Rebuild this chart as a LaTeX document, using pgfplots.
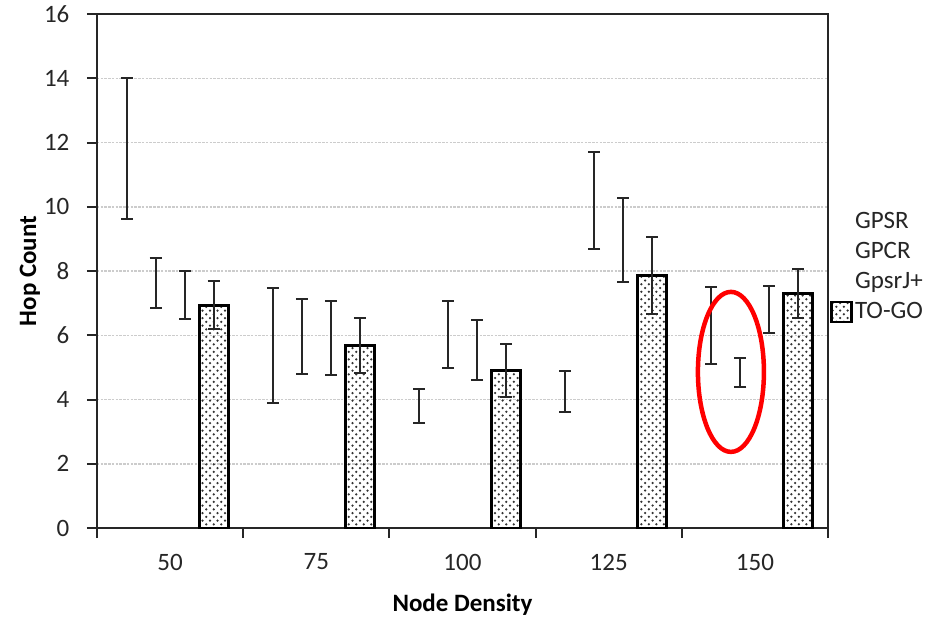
\documentclass[border=0pt]{standalone}
\usepackage{fontspec}
\setmainfont{Carlito}
\usepackage{pgfplots}
\pgfplotsset{compat=1.18}
\usetikzlibrary{patterns}

\pgfplotsset{
    noleg/.style={legend image code/.code={\path (0pt,-4pt) rectangle (8pt,4pt);}},
    boxleg/.style={legend image code/.code={\draw[##1, line width=1pt] (0pt,-4pt) rectangle (8pt,4pt);}},
}

% index, value, error
\pgfplotstableread{
x y e
0 11.81 2.19
1 5.69 1.79
2 3.81 0.53
3 4.26 0.64
4 6.30 1.21
}\gpsr
\pgfplotstableread{
x y e
0 7.63 0.79
1 5.97 1.17
2 6.03 1.05
3 10.20 1.52
4 4.84 0.44
}\gpcr
\pgfplotstableread{
x y e
0 7.25 0.75
1 5.91 1.16
2 5.54 0.93
3 8.97 1.30
4 6.80 0.74
}\gpsrj
\pgfplotstableread{
x y e
0 6.94 0.75
1 5.68 0.86
2 4.91 0.82
3 7.85 1.20
4 7.30 0.76
}\togo

\begin{document}
\begin{tikzpicture}
\useasboundingbox (-38.8pt,-36pt) rectangle (334.8pt,211.2pt);
\begin{axis}[
    at={(0,0)}, anchor=south west,
    scale only axis,
    width=292.4pt, height=205.6pt,
    ybar=0pt, bar width=11.6pt,
    xmin=-0.5, xmax=4.5,
    ymin=0, ymax=16,
    ytick={0,2,...,16},
    xtick={-0.5,0.5,...,4.5},
    xticklabels={},
    extra x ticks={0,1,2,3,4},
    extra x tick labels={50,75,100,125,150},
    extra x tick style={major tick length=0pt},
    tick align=outside,
    major tick length=4pt,
    xtick pos=bottom, ytick pos=left,
    axis line style={line width=0.8pt, black!85},
    tick style={line width=0.8pt, black!85},
    ymajorgrids,
    grid style={gray!40, line width=0.6pt, dash pattern=on 1pt off 0.5pt},
    /pgf/number format/assume math mode=true,
    tick label style={text=black!85},
    yticklabel style={anchor=east, xshift=-3.5pt},
    xticklabel style={anchor=center, yshift=-13.6pt},
    every axis y label/.style={at={(axis description cs:0,0.5)}, xshift=-26.8pt, rotate=90, anchor=center, font=\bfseries},
    every axis x label/.style={at={(axis description cs:0.5,0)}, yshift=-30.8pt, anchor=center, font=\bfseries},
    xlabel={Node Density},
    ylabel={Hop Count},
    legend style={at={(1,0.508)}, xshift=0.6pt, anchor=west, draw=none, fill=none,
        inner sep=0pt, row sep=2pt, nodes={inner sep=1pt, text=black!85}},
    legend cell align=left,
    /tikz/every even column/.append style={column sep=0pt},
    error bars/y dir=both,
    error bars/y explicit,
    error bars/error bar style={line width=0.8pt, black!85},
    error bars/error mark options={rotate=90, mark size=2.4pt, line width=0.8pt, black!85},
]
\addplot[draw=none, fill=none, noleg] table[x=x, y=y, y error=e] {\gpsr};
\addlegendentry{GPSR}
\addplot[draw=none, fill=none, noleg] table[x=x, y=y, y error=e] {\gpcr};
\addlegendentry{GPCR}
\addplot[draw=none, fill=none, noleg] table[x=x, y=y, y error=e] {\gpsrj};
\addlegendentry{GpsrJ+}
\addplot[draw=black, line width=1.2pt, pattern=crosshatch dots, pattern color=black!80, boxleg] table[x=x, y=y, y error=e] {\togo};
\addlegendentry{TO-GO}
\coordinate (E) at (axis cs:3.836,4.86);
\end{axis}
\draw[red, line width=1.8pt] (E) ellipse [x radius=13.2pt, y radius=32pt];
\end{tikzpicture}
\end{document}
